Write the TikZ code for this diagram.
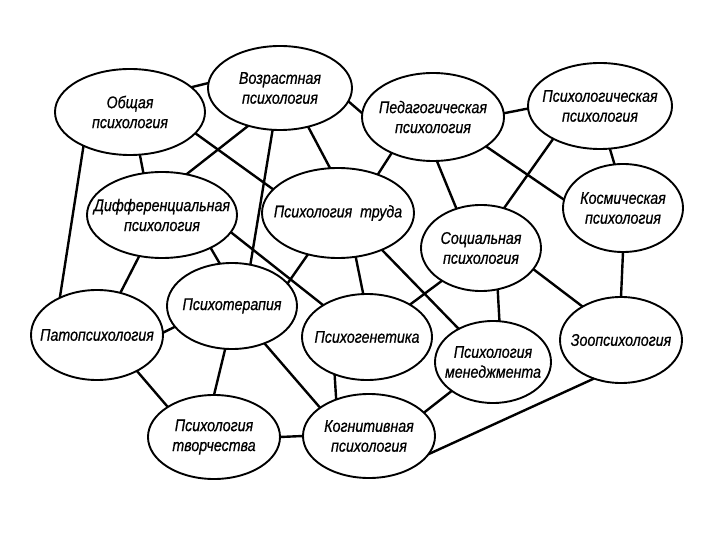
\documentclass[tikz,border=0pt]{standalone}
\usepackage{fontspec}
\setmainfont{Liberation Sans}[FakeStretch=0.84,FakeBold=0.6]
\usetikzlibrary{shapes.geometric}
\newcommand\bubble[6]{\node[bub, minimum width=#4bp, minimum height=#5bp, label={[lab]center:#6}] (#1) at (#2,#3) {};}
\begin{document}
\begin{tikzpicture}[x=1bp,y=-1bp,
  bub/.style={ellipse, draw, line width=1.9bp, inner sep=0pt, outer sep=0pt},
  lab/.style={align=center, inner sep=0pt, font=\fontsize{17}{20}\selectfont\itshape},
  conn/.style={line width=2.4bp}]
\fill[white] (0,0) rectangle (720,540);
\useasboundingbox (0,0) rectangle (720,540);
\bubble{O}{130}{112}{150}{86}{Общая\\психология}
\bubble{V}{280}{88}{144}{84}{Возрастная\\психология}
\bubble{P}{433}{117}{142}{88}{Педагогическая\\психология}
\bubble{PP}{600}{106}{144}{86}{Психологическая\\психология}
\bubble{K}{623}{208}{120}{88}{Космическая\\психология}
\bubble{D}{162}{215}{150}{86}{Дифференциальная\\психология}
\bubble{T}{338}{213}{152}{90}{Психология\ \ труда}
\bubble{S}{481}{248}{120}{86}{Социальная\\психология}
\bubble{Pa}{97}{335}{132}{90}{Патопсихология}
\bubble{Pt}{232}{306}{130}{86}{Психотерапия}
\bubble{G}{367}{337}{130}{86}{Психогенетика}
\bubble{M}{493}{362}{116}{82}{Психология\\менеджмента}
\bubble{Z}{621}{340}{122}{86}{Зоопсихология}
\bubble{Tv}{214}{437}{132}{84}{Психология\\творчества}
\bubble{C}{369}{436}{132}{84}{Когнитивная\\психология}
\draw[conn] (O.22) -- (V.176);
\draw[conn] (O.283) -- (D.114);
\draw[conn] (O.216) -- (Pa.135);
\draw[conn] (O.342) -- (T.160);
\draw[conn] (V.230) -- (D.59);
\draw[conn] (V.260) -- (Pt.66);
\draw[conn] (V.306) -- (T.100);
\draw[conn] (V.349) -- (P.177);
\draw[conn] (P.3) -- (PP.182);
\draw[conn] (P.221) -- (T.44);
\draw[conn] (P.275) -- (S.122);
\draw[conn] (P.331) -- (K.172);
\draw[conn] (PP.215) -- (S.60);
\draw[conn] (PP.283) -- (K.101);
\draw[conn] (K.270) -- (Z.90);
\draw[conn] (S.338) -- (Z.139);
\draw[conn] (S.292) -- (M.81);
\draw[conn] (S.220) -- (G.37);
\draw[conn] (T.292) -- (G.95);
\draw[conn] (T.320) -- (M.136);
\draw[conn] (T.234) -- (Pt.22);
\draw[conn] (D.326) -- (Pt.106);
\draw[conn] (D.346) -- (G.144);
\draw[conn] (D.241) -- (Pa.61);
\draw[conn] (Pa.2) -- (Pt.200);
\draw[conn] (Pa.318) -- (Tv.147);
\draw[conn] (Pt.261) -- (Tv.90);
\draw[conn] (Pt.311) -- (C.150);
\draw[conn] (G.229) -- (C.132);
\draw[conn] (Tv.0) -- (C.180);
\draw[conn] (M.215) -- (C.23);
\draw[conn] (Z.235) -- (C.343);
\end{tikzpicture}
\end{document}
